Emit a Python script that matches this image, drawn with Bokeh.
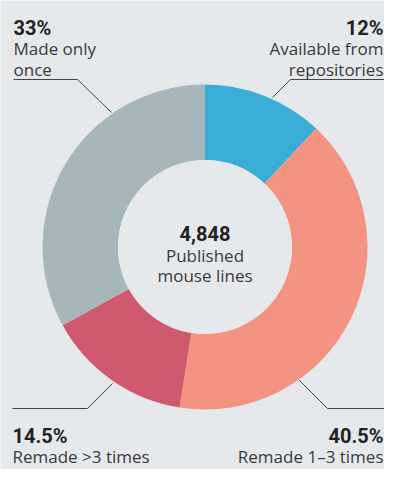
from bokeh.plotting import figure
from bokeh.models import Range1d, ColumnDataSource
from bokeh.core.properties import value
from bokeh.embed import file_html
from bokeh.resources import INLINE
import math

# ---- data ----
categories = ["Available from repositories", "Remade 1\u20133 times", "Remade >3 times", "Made only once"]
shares = [12, 40.5, 14.5, 33]
pct_labels = ["12%", "40.5%", "14.5%", "33%"]
desc_labels = [["Available from", "repositories"], ["Remade 1\u20133 times"], ["Remade >3 times"], ["Made only", "once"]]
colors = ["#3aadd6", "#f39382", "#cf5a6f", "#a7b6bb"]
total_label = "4,848"
center_label = ["Published", "mouse lines"]

# ---- layout (pixel coordinates from top-left) ----
W, H = 384, 469
BG = "#e6e9ec"
CX, CY = 204.5, 246.5
R_OUT, R_IN = 162.5, 87

def Y(y):
    return H - y

p = figure(width=W, height=H, output_backend="svg", toolbar_location=None,
           x_range=Range1d(0, W), y_range=Range1d(0, H),
           min_border=0, background_fill_color=BG, border_fill_color=BG,
           outline_line_color=None)
p.axis.visible = False
p.grid.visible = False

tot = sum(shares)
starts, ends, cum = [], [], 0.0
for s in shares:
    starts.append(math.pi / 2 - 2 * math.pi * cum / tot)
    cum += s
    ends.append(math.pi / 2 - 2 * math.pi * cum / tot)

src = ColumnDataSource(dict(x=[CX] * len(shares), y=[Y(CY)] * len(shares),
                            start=starts, end=ends, color=colors, cat=categories))
p.annular_wedge(x="x", y="y", inner_radius=R_IN, outer_radius=R_OUT,
                start_angle="start", end_angle="end", direction="clock",
                fill_color="color", line_color=None, source=src)
p.circle(x=[CX], y=[Y(CY)], radius=R_IN, fill_color=BG, line_color=None)

# leader lines
leaders = [
    [(390, 79), (290, 79), (272, 97)],
    [(299, 380), (327, 408), (390, 408)],
    [(112, 383), (87, 408), (12, 408)],
    [(13, 79), (77, 79), (111, 112)],
]
for pts in leaders:
    p.line([a for a, b in pts], [Y(b) for a, b in pts], line_color="#444444", line_width=1)

BOLD = value("Roboto")
REG = value("Open Sans")
TXT = "#3a3a3a"
RX = 383
# label anchor: (x, pct baseline, align)
anchors = [(RX, 27, "right"), (RX, 435, "right"), (12, 435, "left"), (13, 27, "left")]
for (ax, ay, al), pl, dl in zip(anchors, pct_labels, desc_labels):
    p.text(x=[ax], y=[Y(ay)], text=[pl], text_font=BOLD, text_font_style="bold",
           text_font_size="20px", text_align=al, text_baseline="alphabetic", text_color="#222222")
    for i, line in enumerate(dl):
        p.text(x=[ax], y=[Y(ay + 21 + 20.5 * i)], text=[line], text_font=REG,
               text_font_size="17px", text_align=al, text_baseline="alphabetic", text_color=TXT)

p.text(x=[CX], y=[Y(233)], text=[total_label], text_font=BOLD, text_font_style="bold",
       text_font_size="20px", text_align="center", text_baseline="alphabetic", text_color="#222222")
for i, line in enumerate(center_label):
    p.text(x=[CX], y=[Y(255 + 20 * i)], text=[line], text_font=REG,
           text_font_size="17px", text_align="center", text_baseline="alphabetic", text_color=TXT)

open("out.html", "w").write(file_html(p, INLINE))
